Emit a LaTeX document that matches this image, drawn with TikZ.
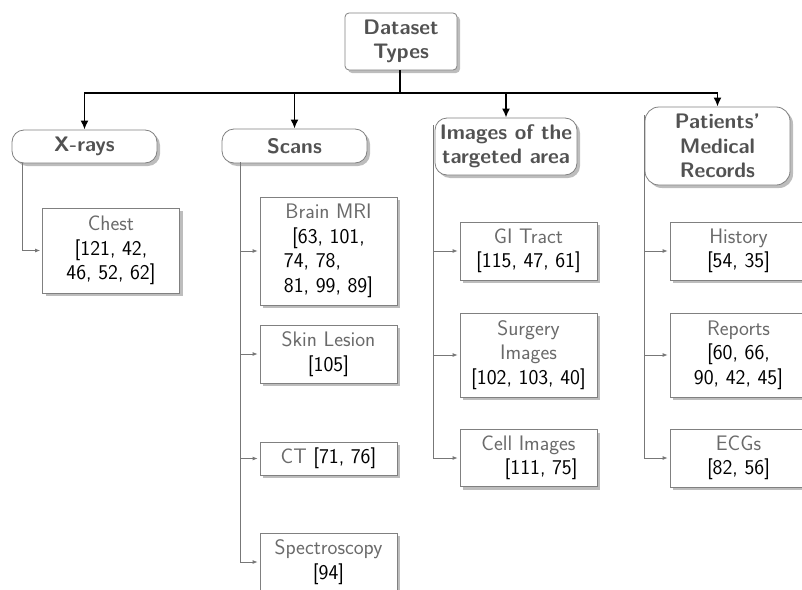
\documentclass[tikz,border=0pt]{standalone}
\usetikzlibrary{shadows,arrows.meta}
\definecolor{catcol}{HTML}{525252}
\definecolor{namecol}{HTML}{6A6A6A}
\definecolor{bordercol}{HTML}{808080}
\definecolor{shadowcol}{HTML}{BDBDBD}
\definecolor{linecol}{HTML}{777777}
\newcommand{\dsName}[1]{\textcolor{namecol}{#1}}
\begin{document}
\begin{tikzpicture}[x=1pt,y=-1pt,
  every node/.style={font=\sffamily\fontsize{21}{24.5}\selectfont},
  boxbase/.style={draw=bordercol, line width=0.8pt, fill=white, align=center, inner sep=2pt,
    drop shadow={shadow xshift=3pt, shadow yshift=-3pt, fill=shadowcol, opacity=1}},
  rootbox/.style={boxbase, rounded corners=4pt, text=catcol, minimum width=112pt, minimum height=57pt,
    font=\sffamily\bfseries\fontsize{21}{24.5}\selectfont},
  catbox/.style={boxbase, rounded corners=12pt, text=catcol, minimum width=145pt,
    font=\sffamily\bfseries\fontsize{21}{24.5}\selectfont},
  itembox/.style={boxbase, text=black, minimum width=137pt},
  trunk/.style={draw=black, line width=1.9pt},
  trunkarrow/.style={trunk, -{Latex[length=9pt,width=8pt]}},
  branch/.style={draw=linecol, line width=0.8pt},
  brancharrow/.style={branch, -{Latex[length=5pt,width=4pt]}, shorten >=2pt}
]
\useasboundingbox (0,0) rectangle (802,589);
\clip (0,0) rectangle (802,589);

% root and categories
\node[rootbox] (root) at (401,41.5) {Dataset\\Types};
\node[catbox, minimum height=33pt] (xr) at (84.5,146.5) {X-rays};
\node[catbox, minimum height=34pt] (sc) at (294.5,146) {Scans};
\node[catbox, minimum height=57pt, minimum width=142pt] (im) at (506,146.5) {Images of the\\targeted area};
\node[catbox, minimum height=78pt, rounded corners=14pt] (pm) at (717.5,146) {Patients’\\Medical\\Records};

% items
\node[itembox, minimum height=85pt] (chest) at (111,250.5) {\dsName{Chest}\\{}[121, 42,\\46, 52, 62]};
\node[itembox, minimum height=108pt] (brain) at (328.5,251) {\dsName{Brain MRI}\\{}[63, 101,\\74, 78,\hphantom{\ 89]}\\81, 99, 89]};
\node[itembox, minimum height=58pt] (skin) at (328.5,354) {\dsName{Skin Lesion}\\{}[105]};
\node[itembox, minimum height=33pt] (ct) at (328.5,458.5) {\dsName{CT} [71, 76]};
\node[itembox, minimum height=58pt] (spec) at (328.5,562) {\dsName{Spectroscopy}\\{}[94]};
\node[itembox, minimum height=58pt] (gi) at (528.5,251) {\dsName{GI Tract}\\{}[115, 47, 61]};
\node[itembox, minimum height=84pt] (surg) at (528.5,355) {\dsName{Surgery}\\\dsName{Images}\\{}[102, 103, 40]};
\node[itembox, minimum height=57pt] (cell) at (528.5,458) {\dsName{Cell Images}\\\hspace*{1.2em}[111, 75]};
\node[itembox, minimum height=58pt] (hist) at (738.5,251) {\dsName{History}\\{}[54, 35]};
\node[itembox, minimum height=84pt] (rep) at (738.5,355) {\dsName{Reports}\\{}[60, 66,\\90, 42, 45]};
\node[itembox, minimum height=58pt] (ecg) at (738.5,458) {\dsName{ECGs}\\{}[82, 56]};

% trunk connectors
\coordinate (hub) at (400,93);
\draw[trunk] (root.south -| hub) -- (hub);
\draw[trunk] (hub) -- (hub -| xr.north);
\draw[trunk] (hub) -- (hub -| pm.north);
\draw[trunkarrow] (hub) -| (xr.north);
\draw[trunkarrow] (hub) -| (sc.north);
\draw[trunkarrow] (hub) -| (im.north);
\draw[trunkarrow] (hub) -| (pm.north);

% branch connectors
\coordinate (xrL) at (22,163);
\coordinate (scL) at (240,162);
\coordinate (imL) at (433,125);
\coordinate (pmL) at (644,115);
\draw[brancharrow] (xrL) |- (chest.west);
\draw[brancharrow] (scL) |- (brain.west);
\draw[brancharrow] (scL) |- (skin.west);
\draw[brancharrow] (scL) |- (ct.west);
\draw[brancharrow] (scL) |- (spec.west);
\draw[brancharrow] (imL) |- (gi.west);
\draw[brancharrow] (imL) |- (surg.west);
\draw[brancharrow] (imL) |- (cell.west);
\draw[brancharrow] (pmL) |- (hist.west);
\draw[brancharrow] (pmL) |- (rep.west);
\draw[brancharrow] (pmL) |- (ecg.west);
\end{tikzpicture}
\end{document}
